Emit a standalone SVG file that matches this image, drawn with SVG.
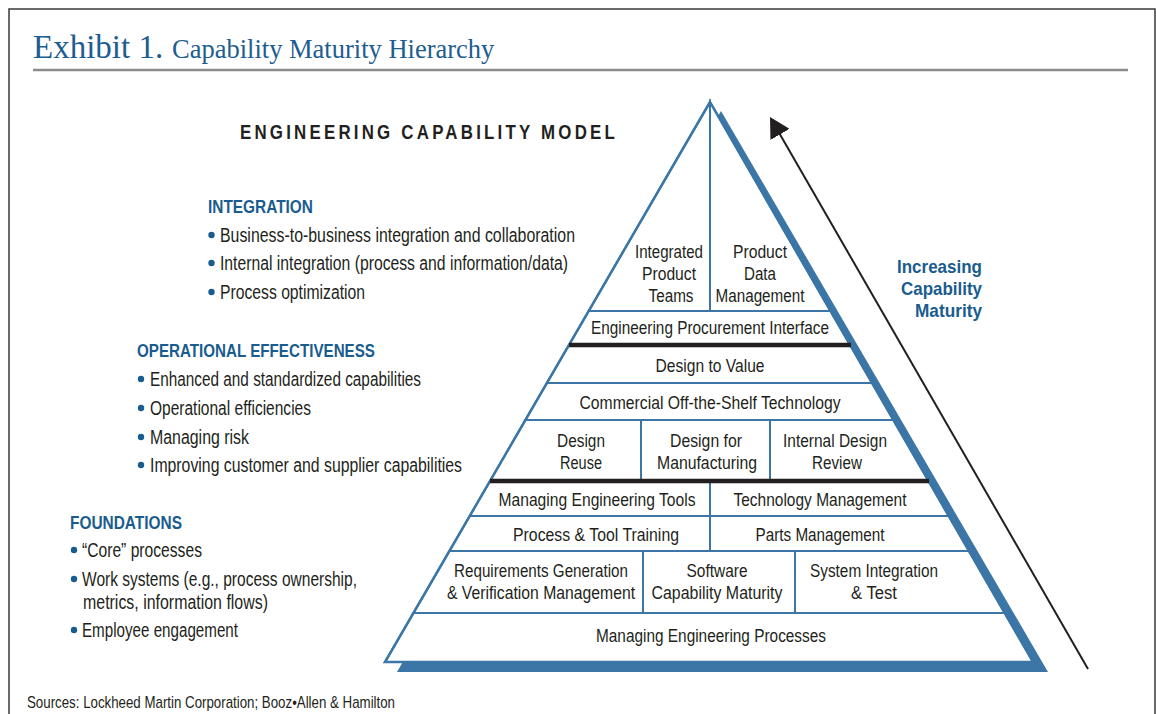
<svg xmlns="http://www.w3.org/2000/svg" width="1156" height="714" viewBox="0 0 1156 714">
  <style>
    .frame { fill: none; stroke: #3a3a3a; stroke-width: 1.5; }
    .rule { stroke: #8c8c8c; stroke-width: 2.5; }
    .title { font-family: "Liberation Serif", "Times New Roman", serif; fill: #1d5d8f; }
    .hdr { font-family: "Liberation Sans", Arial, sans-serif; font-weight: bold; fill: #1a5c8e; font-size: 18.5px; }
    .body { font-family: "Liberation Sans", Arial, sans-serif; fill: #231f20; font-size: 19.5px; }
    .bul { fill: #1a5c8e; }
    .cell { fill: none; stroke: #3b76a6; stroke-width: 2; stroke-linejoin: miter; }
    .cell-t { font-family: "Liberation Sans", Arial, sans-serif; fill: #231f20; font-size: 18.5px; text-anchor: middle; }
    .thick { stroke: #231f20; stroke-width: 4.5; }
    .shadow { fill: #3b76a6; }
    .outline { fill: #ffffff; stroke: #3b76a6; stroke-width: 2.5; stroke-linejoin: miter; }
    .conn { stroke: #231f20; stroke-width: 2; fill: none; }
    .src { font-family: "Liberation Sans", Arial, sans-serif; fill: #231f20; font-size: 16px; }
  </style>
  <defs>
    <marker id="arrowhead" markerUnits="userSpaceOnUse" viewBox="0 0 20 22" markerWidth="20" markerHeight="22" refX="12" refY="11" orient="auto">
      <path d="M0,0 L20,11 L0,22 z" fill="#231f20"/>
    </marker>
  </defs>

  <rect x="0" y="0" width="1156" height="714" fill="#ffffff"/>

  <!-- frame -->
  <path class="frame" d="M9,716 L9,9 L1155,9 L1155,716"/>

  <!-- title -->
  <g id="title">
    <text class="title" x="33" y="58" font-size="33">Exhibit 1.</text>
    <text class="title" x="172" y="58" font-size="26.5">Capability Maturity Hierarchy</text>
    <line class="rule" x1="33" y1="70" x2="1128" y2="70"/>
  </g>

  <text id="model-title" transform="translate(240,139) scale(0.81,1)" font-family="Liberation Sans, Arial, sans-serif" font-weight="bold" font-size="21" letter-spacing="4" fill="#231f20" textLength="466.7" lengthAdjust="spacingAndGlyphs">ENGINEERING CAPABILITY MODEL</text>

  <!-- left text blocks -->
  <g id="integration">
    <text class="hdr" transform="translate(208,213) scale(0.82,1)" textLength="128" lengthAdjust="spacingAndGlyphs">INTEGRATION</text>
    <circle class="bul" cx="211.5" cy="235" r="3.2"/>
    <text class="body" transform="translate(220,242) scale(0.82,1)" textLength="432.9" lengthAdjust="spacingAndGlyphs">Business-to-business integration and collaboration</text>
    <circle class="bul" cx="211.5" cy="263" r="3.2"/>
    <text class="body" transform="translate(220,270) scale(0.82,1)" textLength="424.4" lengthAdjust="spacingAndGlyphs">Internal integration (process and information/data)</text>
    <circle class="bul" cx="211.5" cy="292" r="3.2"/>
    <text class="body" transform="translate(220,299) scale(0.82,1)" textLength="176.8" lengthAdjust="spacingAndGlyphs">Process optimization</text>
  </g>

  <g id="operational">
    <text class="hdr" transform="translate(137,357) scale(0.82,1)" textLength="290.2" lengthAdjust="spacingAndGlyphs">OPERATIONAL EFFECTIVENESS</text>
    <circle class="bul" cx="141" cy="379" r="3.2"/>
    <text class="body" transform="translate(150,386) scale(0.82,1)" textLength="330.5" lengthAdjust="spacingAndGlyphs">Enhanced and standardized capabilities</text>
    <circle class="bul" cx="141" cy="408" r="3.2"/>
    <text class="body" transform="translate(150,415) scale(0.82,1)" textLength="196.3" lengthAdjust="spacingAndGlyphs">Operational efficiencies</text>
    <circle class="bul" cx="141" cy="437" r="3.2"/>
    <text class="body" transform="translate(150,444) scale(0.82,1)" textLength="120.7" lengthAdjust="spacingAndGlyphs">Managing risk</text>
    <circle class="bul" cx="141" cy="465" r="3.2"/>
    <text class="body" transform="translate(150,472) scale(0.82,1)" textLength="380.5" lengthAdjust="spacingAndGlyphs">Improving customer and supplier capabilities</text>
  </g>

  <g id="foundations">
    <text class="hdr" transform="translate(70,529) scale(0.82,1)" textLength="136.6" lengthAdjust="spacingAndGlyphs">FOUNDATIONS</text>
    <circle class="bul" cx="74" cy="550" r="3.2"/>
    <text class="body" transform="translate(82,557) scale(0.82,1)" textLength="146.3" lengthAdjust="spacingAndGlyphs">“Core” processes</text>
    <circle class="bul" cx="74" cy="579" r="3.2"/>
    <text class="body" transform="translate(82,586) scale(0.82,1)" textLength="335.4" lengthAdjust="spacingAndGlyphs">Work systems (e.g., process ownership,</text>
    <text class="body" transform="translate(83,609) scale(0.82,1)" textLength="225.6" lengthAdjust="spacingAndGlyphs">metrics, information flows)</text>
    <circle class="bul" cx="74" cy="630" r="3.2"/>
    <text class="body" transform="translate(82,637) scale(0.82,1)" textLength="190.2" lengthAdjust="spacingAndGlyphs">Employee engagement</text>
  </g>

  <!-- pyramid -->
  <g id="pyramid">
    <polygon class="shadow" points="721,111 1048,672 397,672"/>
    <polygon class="outline" points="710,102 1033,662 385,662"/>
  </g>

  <g id="cell-ipt">
    <polygon class="cell" points="710,102 710,311 588.7,311"/>
    <text class="cell-t" transform="translate(669,258) scale(0.83,1)" textLength="81.9" lengthAdjust="spacingAndGlyphs">Integrated</text>
    <text class="cell-t" transform="translate(669,280) scale(0.83,1)" textLength="65.1" lengthAdjust="spacingAndGlyphs">Product</text>
    <text class="cell-t" transform="translate(671,302) scale(0.83,1)" textLength="54.2" lengthAdjust="spacingAndGlyphs">Teams</text>
  </g>
  <g id="cell-pdm">
    <polygon class="cell" points="710,102 830.5,311 710,311"/>
    <text class="cell-t" transform="translate(760,258) scale(0.83,1)" textLength="65.1" lengthAdjust="spacingAndGlyphs">Product</text>
    <text class="cell-t" transform="translate(760,280) scale(0.83,1)" textLength="38.6" lengthAdjust="spacingAndGlyphs">Data</text>
    <text class="cell-t" transform="translate(760,302) scale(0.83,1)" textLength="107.2" lengthAdjust="spacingAndGlyphs">Management</text>
  </g>
  <g id="cell-epi">
    <polygon class="cell" points="588.7,311 830.5,311 850.2,345 569,345"/>
    <text class="cell-t" transform="translate(710,334) scale(0.83,1)" textLength="286.7" lengthAdjust="spacingAndGlyphs">Engineering Procurement Interface</text>
  </g>
  <g id="cell-dtv">
    <polygon class="cell" points="569,345 850.2,345 872.1,383 546.9,383"/>
    <text class="cell-t" transform="translate(710,372) scale(0.83,1)" textLength="131.3" lengthAdjust="spacingAndGlyphs">Design to Value</text>
  </g>
  <g id="cell-cots">
    <polygon class="cell" points="546.9,383 872.1,383 893.4,420 525.4,420"/>
    <text class="cell-t" transform="translate(710,409) scale(0.83,1)" textLength="314.5" lengthAdjust="spacingAndGlyphs">Commercial Off-the-Shelf Technology</text>
  </g>
  <g id="cell-reuse">
    <polygon class="cell" points="525.4,420 641,420 641,481 490,481"/>
    <text class="cell-t" transform="translate(581,447) scale(0.83,1)" textLength="57.8" lengthAdjust="spacingAndGlyphs">Design</text>
    <text class="cell-t" transform="translate(581,469) scale(0.83,1)" textLength="50.6" lengthAdjust="spacingAndGlyphs">Reuse</text>
  </g>
  <g id="cell-dfm">
    <polygon class="cell" points="641,420 770,420 770,481 641,481"/>
    <text class="cell-t" transform="translate(706,447) scale(0.83,1)" textLength="86.7" lengthAdjust="spacingAndGlyphs">Design for</text>
    <text class="cell-t" transform="translate(707,469) scale(0.83,1)" textLength="120.5" lengthAdjust="spacingAndGlyphs">Manufacturing</text>
  </g>
  <g id="cell-idr">
    <polygon class="cell" points="770,420 893.4,420 928.6,481 770,481"/>
    <text class="cell-t" transform="translate(835,447) scale(0.83,1)" textLength="125.3" lengthAdjust="spacingAndGlyphs">Internal Design</text>
    <text class="cell-t" transform="translate(837,469) scale(0.83,1)" textLength="60.2" lengthAdjust="spacingAndGlyphs">Review</text>
  </g>
  <g id="cell-met">
    <polygon class="cell" points="490,481 710,481 710,516 469.7,516"/>
    <text class="cell-t" transform="translate(597,506) scale(0.83,1)" textLength="237.3" lengthAdjust="spacingAndGlyphs">Managing Engineering Tools</text>
  </g>
  <g id="cell-tm">
    <polygon class="cell" points="710,481 928.6,481 948.8,516 710,516"/>
    <text class="cell-t" transform="translate(820,506) scale(0.83,1)" textLength="208.4" lengthAdjust="spacingAndGlyphs">Technology Management</text>
  </g>
  <g id="cell-ptt">
    <polygon class="cell" points="469.7,516 710,516 710,551 449.4,551"/>
    <text class="cell-t" transform="translate(596,541) scale(0.83,1)" textLength="200" lengthAdjust="spacingAndGlyphs">Process &amp; Tool Training</text>
  </g>
  <g id="cell-pm">
    <polygon class="cell" points="710,516 948.8,516 969,551 710,551"/>
    <text class="cell-t" transform="translate(820,541) scale(0.83,1)" textLength="155.4" lengthAdjust="spacingAndGlyphs">Parts Management</text>
  </g>
  <g id="cell-rgvm">
    <polygon class="cell" points="449.4,551 643,551 643,613 413.4,613"/>
    <text class="cell-t" transform="translate(541,577) scale(0.83,1)" textLength="209.6" lengthAdjust="spacingAndGlyphs">Requirements Generation</text>
    <text class="cell-t" transform="translate(541,599) scale(0.83,1)" textLength="226.5" lengthAdjust="spacingAndGlyphs">&amp; Verification Management</text>
  </g>
  <g id="cell-scm">
    <polygon class="cell" points="643,551 795,551 795,613 643,613"/>
    <text class="cell-t" transform="translate(717,577) scale(0.83,1)" textLength="73.5" lengthAdjust="spacingAndGlyphs">Software</text>
    <text class="cell-t" transform="translate(717,599) scale(0.83,1)" textLength="157.8" lengthAdjust="spacingAndGlyphs">Capability Maturity</text>
  </g>
  <g id="cell-sit">
    <polygon class="cell" points="795,551 969,551 1004.7,613 795,613"/>
    <text class="cell-t" transform="translate(874,577) scale(0.83,1)" textLength="154.2" lengthAdjust="spacingAndGlyphs">System Integration</text>
    <text class="cell-t" transform="translate(874,599) scale(0.83,1)" textLength="55.4" lengthAdjust="spacingAndGlyphs">&amp; Test</text>
  </g>
  <g id="cell-mep">
    <polygon class="cell" points="413.4,613 1004.7,613 1033,662 385,662"/>
    <text class="cell-t" transform="translate(711,642) scale(0.83,1)" textLength="277.1" lengthAdjust="spacingAndGlyphs">Managing Engineering Processes</text>
  </g>

  <g id="tier-dividers">
    <line class="thick" x1="569" y1="345" x2="851" y2="345"/>
    <line class="thick" x1="490" y1="481" x2="929" y2="481"/>
  </g>

  <!-- connectors -->
  <g id="connectors">
    <line class="conn" x1="1088" y1="669" x2="774" y2="124" marker-end="url(#arrowhead)"/>
  </g>

  <g id="maturity-label">
    <text class="hdr" transform="translate(982,272.5) scale(0.85,1)" font-size="20" text-anchor="end" textLength="100" lengthAdjust="spacingAndGlyphs">Increasing</text>
    <text class="hdr" transform="translate(982,294.5) scale(0.85,1)" font-size="20" text-anchor="end" textLength="95.3" lengthAdjust="spacingAndGlyphs">Capability</text>
    <text class="hdr" transform="translate(982,316.5) scale(0.85,1)" font-size="20" text-anchor="end" textLength="78.8" lengthAdjust="spacingAndGlyphs">Maturity</text>
  </g>

  <text class="src" transform="translate(27,708) scale(0.83,1)" textLength="443.4" lengthAdjust="spacingAndGlyphs">Sources: Lockheed Martin Corporation; Booz•Allen &amp; Hamilton</text>
</svg>
